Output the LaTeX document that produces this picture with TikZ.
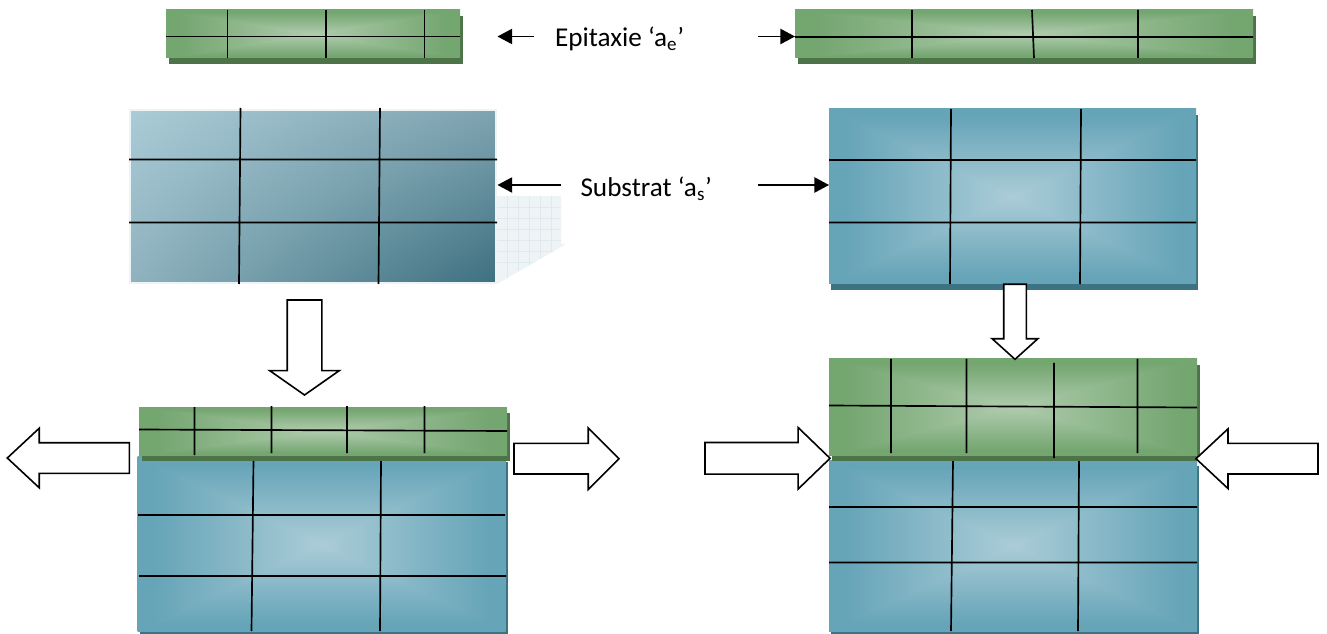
\documentclass[tikz,border=0pt]{standalone}
\usepackage{fontspec}
\setmainfont{Carlito}
\usetikzlibrary{arrows.meta,shapes.arrows,shadows,shadings}
% rectangular path gradients, dark at the rim and light in the middle
\pgfdeclarefunctionalshading{pillowgreen}{\pgfpoint{-50bp}{-50bp}}{\pgfpoint{50bp}{50bp}}{}{
  abs exch abs 2 copy lt {exch} if pop 25 div 1.1 mul dup 1 gt {pop 1} if
  dup -0.235 mul 0.69 add exch dup -0.15 mul 0.80 add exch -0.24 mul 0.68 add}
\pgfdeclarefunctionalshading{pillowblue}{\pgfpoint{-50bp}{-50bp}}{\pgfpoint{50bp}{50bp}}{}{
  abs exch abs 2 copy lt {exch} if pop 25 div 1.1 mul dup 1 gt {pop 1} if
  dup -0.27 mul 0.67 add exch dup -0.155 mul 0.80 add exch -0.125 mul 0.845 add}
\definecolor{greenshadow}{HTML}{4D7349}
\definecolor{blueshadow}{HTML}{3D7283}
\definecolor{paleedge}{HTML}{EEF3F5}
\definecolor{palegrid}{HTML}{DFEAEE}
\definecolor{sublight}{HTML}{A9CCD7}
\definecolor{submidA}{HTML}{7FA3B0}
\definecolor{submidB}{HTML}{8FB2BE}
\definecolor{subdark}{HTML}{3D7080}
\tikzset{
  every node/.style={inner sep=0pt,outer sep=0pt},
  slabsize/.style 2 args={minimum width=#1*0.75pt,minimum height=#2*0.75pt},
  greenslab/.style={shading=pillowgreen,general shadow={fill=greenshadow,shadow xshift=2pt,shadow yshift=-4.2pt}},
  blueslab/.style={shading=pillowblue,general shadow={fill=blueshadow,shadow xshift=1.6pt,shadow yshift=-4.2pt}},
  cell/.style={line width=1.25pt,black},
  thinarrow/.style={line width=1pt,-{Triangle[length=11pt,width=11.5pt]}},
  blockarrow/.style n args={4}{single arrow,draw=black,fill=white,line width=1.2pt,anchor=tip,
    minimum height=#1*0.75pt,inner ysep=#2*0.375pt,
    single arrow head extend=#3*0.75pt,single arrow tip angle=#4},
  legend/.style={font=\fontsize{20.4}{24}\selectfont,anchor=base west}
}
\begin{document}
\begin{tikzpicture}[x=0.75pt,y=-0.75pt]
  \useasboundingbox (0,0) rectangle (1327,634);
  % top row: the two thin layers
  \node[greenslab,slabsize={294}{48}] (epiA) at (313,34) {};
  \draw[cell] (166,36.5) -- (460,36.5) (227.5,10) -- (227.5,58) (326,10) -- (326,58) (424.5,10) -- (424.5,58);
  \node[greenslab,slabsize={458}{48}] (epiB) at (1024,34) {};
  \draw[cell] (795,37) -- (1253,37) (912,10) -- (912,58) (1032,10) -- (1034,58) (1138,10) -- (1138,58);
  % pale cast shadow behind the first substrate
  \fill[paleedge] (497,196) -- (561,196) -- (561,244) -- (566,244) -- (497,284) -- cycle;
  \begin{scope}
    \clip (497,196) -- (561,196) -- (561,244) -- (566,244) -- (497,284) -- cycle;
    \foreach \gx in {507,518,529,540,551} \draw[palegrid,line width=0.4pt] (\gx,196) -- (\gx,284);
    \foreach \gy in {207,218,229,240,251,262} \draw[palegrid,line width=0.4pt] (497,\gy) -- (566,\gy);
  \end{scope}
  % middle row: the two substrates
  \node[draw=paleedge,line width=1.5pt,slabsize={366}{173},
    upper left=sublight,lower right=subdark,upper right=submidA,lower left=submidB] (subA) at (313,196.5) {};
  \draw[cell] (129,159.5) -- (497,159.5) (129,222.5) -- (497,222.5) (240.5,108) -- (239,284) (380,108) -- (378.5,284);
  \node[blueslab,slabsize={367}{175}] (subB) at (1012.5,196.5) {};
  \draw[cell] (829,160) -- (1196,160) (829,222.5) -- (1196,222.5) (951,109) -- (950,284) (1081,109) -- (1080,284);
  % bottom left stack
  \node[blueslab,slabsize={368}{175}] (subC) at (321.5,544) {};
  \draw[cell] (138,515) -- (505,515) (139,576) -- (506,576) (253.5,461) -- (251.5,631) (381,461) -- (380,631);
  \node[greenslab,slabsize={368}{48}] (epiC) at (323,431) {};
  \draw[cell] (139,429.5) -- (507,431) (194.5,407) -- (194.5,455) (271.5,406) -- (271.5,453) (347,406) -- (347,453) (424.5,406) -- (424.5,453);
  % bottom right stack
  \node[blueslab,slabsize={368}{171}] (subD) at (1013,545.5) {};
  \draw[cell] (829,507) -- (1197,507) (829,562.5) -- (1197,562.5) (953,461) -- (951,631) (1079,461) -- (1078,631);
  \node[greenslab,slabsize={368}{96}] (epiD) at (1013,407) {};
  \draw[cell] (829,405.5) -- (1197,407.5) (891,359) -- (891,453) (966.5,359) -- (966.5,453) (1054,363) -- (1054,458) (1137.5,359) -- (1137.5,453);
  % block arrows
  \node[blockarrow={95}{33}{17.5}{110},rotate=-90] (pressA) at (304.5,395) {};
  \node[blockarrow={75}{21}{11.5}{96},rotate=-90] (pressB) at (1015,359.3) {};
  \node[blockarrow={122}{29}{14.5}{86},rotate=180] (pullL) at (7.3,458) {};
  \node[blockarrow={105}{29}{15.5}{90}] (pullR) at (619,458.7) {};
  \node[blockarrow={125}{30}{15}{88}] (pushL) at (830,458.3) {};
  \node[blockarrow={122}{29}{14.5}{86},rotate=180] (pushR) at (1196,458.7) {};
  % labels and their arrows
  \node[legend] (epilabel) at (555,46.5) {Epitaxie ‘a\textsubscript{e}’};
  \node[legend] (sublabel) at (580.5,196.5) {Substrat ‘a\textsubscript{s}’};
  \coordinate (epiout) at (534,36.5);
  \coordinate (epitip) at (497.5,36.5);
  \coordinate (epiin) at (758,36.5);
  \coordinate (subout) at (561,185);
  \coordinate (subtip) at (497.5,185);
  \coordinate (subin) at (758,185);
  \draw[thinarrow] (epiout) -- (epitip);
  \draw[thinarrow] (epiin) -- (epiB.west |- epiin);
  \draw[thinarrow] (subout) -- (subtip);
  \draw[thinarrow] (subin) -- (subB.west |- subin);
\end{tikzpicture}
\end{document}
